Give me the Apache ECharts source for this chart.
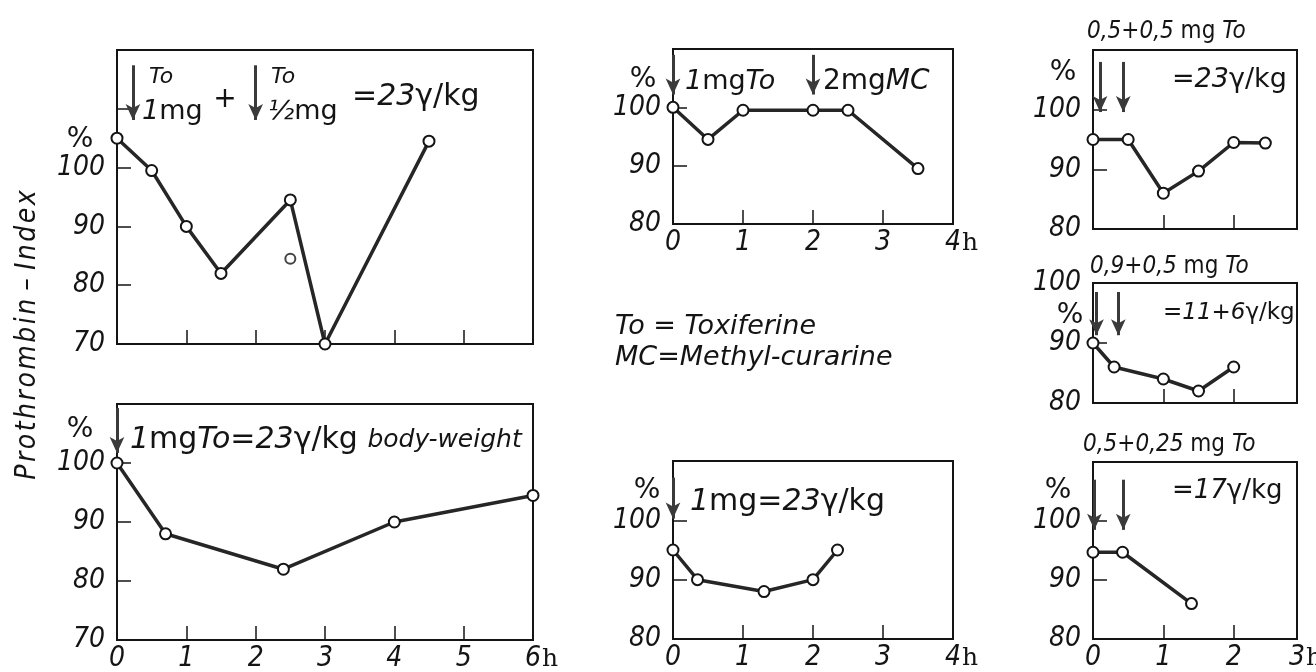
<!DOCTYPE html>
<html>
<head>
<meta charset="utf-8">
<script src="https://cdn.jsdelivr.net/npm/echarts@6/dist/echarts.min.js"></script>
<style>
  html, body { margin: 0; background: #fff; }
  #chart { width: 1316px; height: 672px; }
</style>
</head>
<body>
<div id="chart"></div>
<script>
// hours after injection / prothrombin index in %
const hoursA = [0, 0.5, 1, 1.5, 2.5, 3, 4.5];
const indexA = [105, 99.5, 90, 82, 94.5, 70, 104.5];
const strayHoursA = [2.5];
const strayIndexA = [84.5];
const hoursB = [0, 0.7, 2.4, 4, 6];
const indexB = [100, 88, 82, 90, 94.5];
const hoursC = [0, 0.5, 1, 2, 2.5, 3.5];
const indexC = [100, 94.5, 99.5, 99.5, 99.5, 89.5];
const hoursD = [0, 0.35, 1.3, 2, 2.35];
const indexD = [95, 90, 88, 90, 95];
const hoursE = [0, 0.5, 1, 1.5, 2, 2.45];
const indexE = [95, 95, 86, 89.7, 94.5, 94.4];
const hoursF = [0, 0.3, 1, 1.5, 2];
const indexF = [90, 86, 84, 82, 86];
const hoursG = [0, 0.42, 1.4];
const indexG = [94.7, 94.7, 86];

// injection times (arrows)
const dosesA = [0.23, 2.0];
const dosesB = [0];
const dosesC = [0, 2];
const dosesD = [0];
const dosesE = [0.1, 0.43];
const dosesF = [0.05, 0.36];
const dosesG = [0.02, 0.43];

const INK = '#141414';
const LINE = '#262626';
const COND = '"DejaVu Sans Condensed", "DejaVu Sans", sans-serif';
const SANS = '"DejaVu Sans", sans-serif';

// box = [left, top, width, height]
const panels = [
  { hours: hoursA, index: indexA, doses: dosesA, box: [117, 50, 416, 294], x: [0, 6], y: [70, 120], xLabels: false, arrow: [117.4, 108.1] },
  { hours: hoursB, index: indexB, doses: dosesB, box: [117, 404, 416, 236], x: [0, 6], y: [70, 110], xLabels: true, arrow: [109.3, 101.7] },
  { hours: hoursC, index: indexC, doses: dosesC, box: [673, 49, 280, 175], x: [0, 4], y: [80, 110], xLabels: true, arrow: [109, 102.2] },
  { hours: hoursD, index: indexD, doses: dosesD, box: [673, 461, 280, 178], x: [0, 4], y: [80, 110], xLabels: true, arrow: [107.2, 100.3] },
  { hours: hoursE, index: indexE, doses: dosesE, box: [1093, 50, 204, 179], x: [0, 2.9], y: [80, 110], xLabels: false, arrow: [108, 99.6], leader: [0.63, 112.6] },
  { hours: hoursF, index: indexF, doses: dosesF, box: [1093, 283, 204, 120], x: [0, 2.9], y: [80, 100], xLabels: false, arrow: [98.5, 91.3], leader: [0.63, 101.8] },
  { hours: hoursG, index: indexG, doses: dosesG, box: [1093, 462, 204, 177], x: [0, 2.9], y: [80, 110], xLabels: true, arrow: [107, 98.5], leader: [0.63, 110.9] }
];

const grid = [], xAxis = [], yAxis = [], series = [];

panels.forEach((p, i) => {
  grid.push({
    left: p.box[0], top: p.box[1], width: p.box[2], height: p.box[3],
    show: true, borderColor: INK, borderWidth: 2, backgroundColor: 'transparent',
    containLabel: false, outerBoundsMode: 'none'
  });
  const xmax = p.x[1];
  xAxis.push({
    type: 'value', gridIndex: i, min: p.x[0], max: xmax, interval: 1,
    splitLine: { show: false },
    axisLine: { show: true, lineStyle: { color: INK, width: 2 } },
    axisTick: { show: true, inside: true, length: 14, lineStyle: { color: INK, width: 1.5 } },
    axisLabel: {
      show: p.xLabels, margin: 5, color: INK,
      fontFamily: COND, fontStyle: 'italic', fontSize: 28,
      formatter: v => v === xmax ? '{s| }' + Math.round(v) + '{h|h}' : String(v),
      rich: {
        s: { width: 17 },
        h: { fontStyle: 'normal', fontFamily: '"DejaVu Serif"', fontSize: 25, width: 17, align: 'right' }
      }
    }
  });
  yAxis.push({
    type: 'value', gridIndex: i, min: p.y[0], max: p.y[1], interval: 10,
    splitLine: { show: false },
    axisLine: { show: true, lineStyle: { color: INK, width: 2 } },
    axisTick: { show: true, inside: true, length: 14, lineStyle: { color: INK, width: 1.5 } },
    axisLabel: {
      margin: 12, color: INK, fontFamily: COND, fontStyle: 'italic', fontSize: 28,
      formatter: v => (v > 100 ? '' : String(v))
    }
  });

  const arrows = p.doses.map(d => [{ coord: [d, p.arrow[0]] }, { coord: [d, p.arrow[1]] }]);
  const leaders = p.leader
    ? [[{ coord: [p.doses[1], p.arrow[0]], symbol: 'none' }, { coord: p.leader, symbol: 'none' }]]
    : [];

  series.push({
    type: 'line', xAxisIndex: i, yAxisIndex: i, clip: false, animation: false,
    data: p.hours.map((h, k) => [h, p.index[k]]),
    symbol: 'circle', symbolSize: 11,
    itemStyle: { color: '#fff', borderColor: INK, borderWidth: 2 },
    lineStyle: { color: LINE, width: 3.5 },
    markLine: {
      silent: true, animation: false,
      symbol: ['none', 'arrow'], symbolSize: [11, 16],
      label: { show: false },
      lineStyle: { color: '#3a3a3a', width: 3, type: 'solid' },
      data: arrows.concat(leaders)
    }
  });
});

series.push({
  type: 'scatter', xAxisIndex: 0, yAxisIndex: 0, animation: false,
  data: strayHoursA.map((h, k) => [h, strayIndexA[k]]),
  symbol: 'circle', symbolSize: 10,
  itemStyle: { color: '#fff', borderColor: INK, borderWidth: 2 }
});

// annotation text, rich parts: i = italic, b = body-weight, t = small "To"
const richFor = (size, family) => ({
  i: { font: 'italic ' + size + 'px ' + family, fill: INK },
  b: { font: 'italic 25px ' + SANS, fill: INK },
  t: { font: 'italic 22px ' + SANS, fill: INK }
});
const txt = (x, y, text, size, opts) => {
  const o = opts || {};
  const family = o.family || SANS;
  const el = {
    type: 'text', x: x, y: y, silent: true,
    style: {
      text: text, font: (o.italic ? 'italic ' : '') + size + 'px ' + family,
      fill: INK, align: o.align || 'left', verticalAlign: 'middle', rich: richFor(size, family)
    }
  };
  if (o.rotation) el.rotation = o.rotation;
  return el;
};

const hair = s => s.split('').join('\u200a');

const graphic = [
  txt(28, 335, hair('Prothrombin') + ' \u2013 ' + hair('Index'), 28, { italic: true, family: COND, align: 'center', rotation: Math.PI / 2 }),
  // top left
  txt(80, 140, '%', 28, { align: 'center' }),
  txt(149, 77, '{t|To}', 22),
  txt(142, 112, '{i|1}mg', 27),
  txt(225, 100, '+', 28, { align: 'center', italic: true }),
  txt(271, 77, '{t|To}', 22),
  txt(268, 112, '{i|\u00bd}mg', 27),
  txt(352, 97, '{i|=23}\u03b3/kg', 30),
  // bottom left
  txt(80, 430, '%', 28, { align: 'center' }),
  txt(130, 440, '{i|1}mg{i|To=23}\u03b3/kg {b|body-weight}', 30),
  // middle
  txt(643, 80, '%', 28, { align: 'center' }),
  txt(685, 82, '{i|1}mg{i|To}', 27),
  txt(823, 82, '2mg{i|MC}', 28),
  txt(615, 327, 'To = Toxiferine', 27, { italic: true }),
  txt(615, 358, 'MC=Methyl-curarine', 27, { italic: true }),
  txt(647, 491, '%', 28, { align: 'center' }),
  txt(690, 502, '{i|1}mg{i|=23}\u03b3/kg', 30),
  // right column
  txt(1087, 32, '{i|0,5+0,5} mg {i|To}', 24, { family: COND }),
  txt(1063, 73, '%', 28, { align: 'center' }),
  txt(1172, 80, '{i|=23}\u03b3/kg', 27),
  txt(1090, 267, '{i|0,9+0,5} mg {i|To}', 24, { family: COND }),
  txt(1070, 316, '%', 28, { align: 'center' }),
  txt(1163, 313, '{i|=11+6}\u03b3/kg', 23),
  txt(1083, 445, '{i|0,5+0,25} mg {i|To}', 24, { family: COND }),
  txt(1058, 491, '%', 28, { align: 'center' }),
  txt(1172, 491, '{i|=17}\u03b3/kg', 26)
];

const chart = echarts.init(document.getElementById('chart'));
chart.setOption({
  animation: false,
  backgroundColor: '#fff',
  grid, xAxis, yAxis, series, graphic
});
</script>
</body>
</html>
